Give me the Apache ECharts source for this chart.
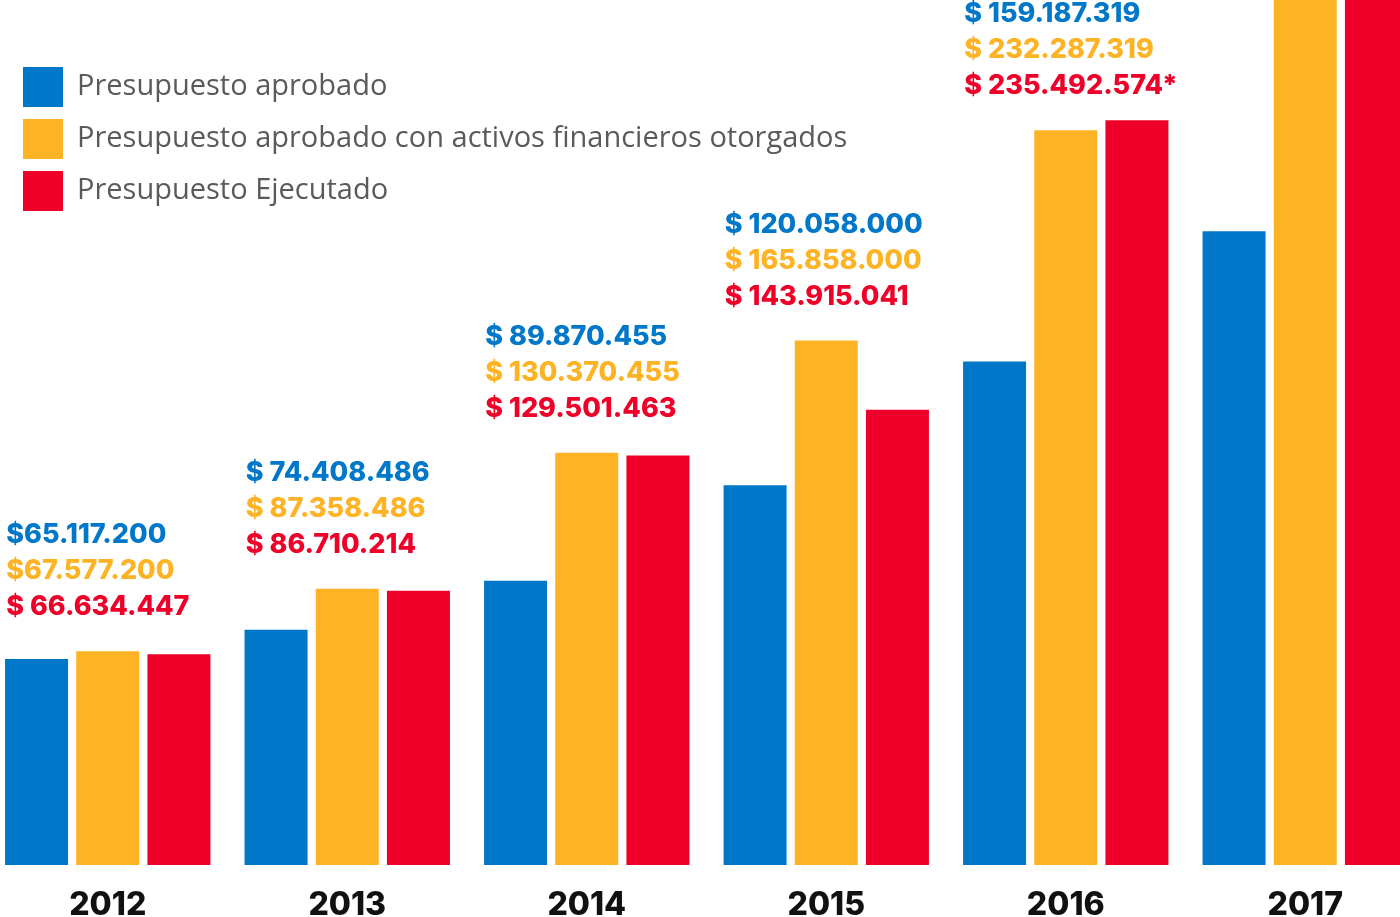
<!DOCTYPE html>
<html>
<head>
<meta charset="utf-8">
<title>Presupuesto</title>
<script src="https://cdn.jsdelivr.net/npm/echarts@6/dist/echarts.min.js"></script>
<style>
  html, body { margin: 0; padding: 0; background: #fff; overflow: hidden; }
  #main { position: absolute; left: -12px; top: 0; width: 1437px; height: 917px; }
</style>
</head>
<body>
<div id="main"></div>
<script>
// datos (pesos)
var years = ['2012', '2013', '2014', '2015', '2016', '2017'];
var aprobado = [65117200, 74408486, 89870455, 120058000, 159187319, 200400000];
var aprobadoActivos = [67577200, 87358486, 130370455, 165858000, 232287319, 282000000];
var ejecutado = [66634447, 86710214, 129501463, 143915041, 235492574, 286000000];

// textos de las etiquetas (2017 no se ve)
var txtAprobado = ['$65.117.200', '$ 74.408.486', '$ 89.870.455', '$ 120.058.000', '$ 159.187.319', ''];
var txtActivos = ['$67.577.200', '$ 87.358.486', '$ 130.370.455', '$ 165.858.000', '$ 232.287.319', ''];
var txtEjecutado = ['$ 66.634.447', '$ 86.710.214', '$ 129.501.463', '$ 143.915.041', '$ 235.492.574*', ''];

var names = ['Presupuesto aprobado', 'Presupuesto aprobado con activos financieros otorgados', 'Presupuesto Ejecutado'];
var colors = ['#0077c8', '#fdb324', '#ee0028'];

var myChart = echarts.init(document.getElementById('main'));

var lbl = function (c) {
    return { color: c, fontSize: 27, fontWeight: 800, fontFamily: 'Inter', lineHeight: 36 };
};

var option = {
    animation: false,
    color: colors,
    legend: {
        orient: 'vertical',
        left: 30,
        top: 62,
        icon: 'rect',
        itemWidth: 40,
        itemHeight: 40,
        itemGap: 12,
        selectedMode: false,
        data: names,
        textStyle: { color: '#5a5a5a', fontSize: 29, fontFamily: 'Open Sans', padding: [0, 0, 0, 9] }
    },
    grid: { left: 0, right: 0, top: 0, bottom: 52, outerBoundsMode: 'none' },
    xAxis: {
        type: 'category',
        data: years,
        axisLine: { show: false },
        axisTick: { show: false },
        axisLabel: { color: '#111', fontSize: 32, fontWeight: 800, fontFamily: 'Inter', margin: 24 }
    },
    yAxis: { type: 'value', show: false, min: 0, max: 273500000 },
    series: [
        { name: names[0], type: 'bar', barWidth: 63, barGap: '13%', data: aprobado },
        {
            name: names[1], type: 'bar', barWidth: 63, barGap: '13%', data: aprobadoActivos,
            label: {
                show: true,
                position: [-70, -26],
                align: 'left',
                verticalAlign: 'bottom',
                formatter: function (p) {
                    var i = p.dataIndex;
                    if (!txtAprobado[i]) return '';
                    return '{a|' + txtAprobado[i] + '}\n{b|' + txtActivos[i] + '}\n{c|' + txtEjecutado[i] + '}';
                },
                rich: { a: lbl(colors[0]), b: lbl(colors[1]), c: lbl(colors[2]) }
            }
        },
        { name: names[2], type: 'bar', barWidth: 63, barGap: '13%', data: ejecutado }
    ]
};

myChart.setOption(option);
</script>
</body>
</html>
